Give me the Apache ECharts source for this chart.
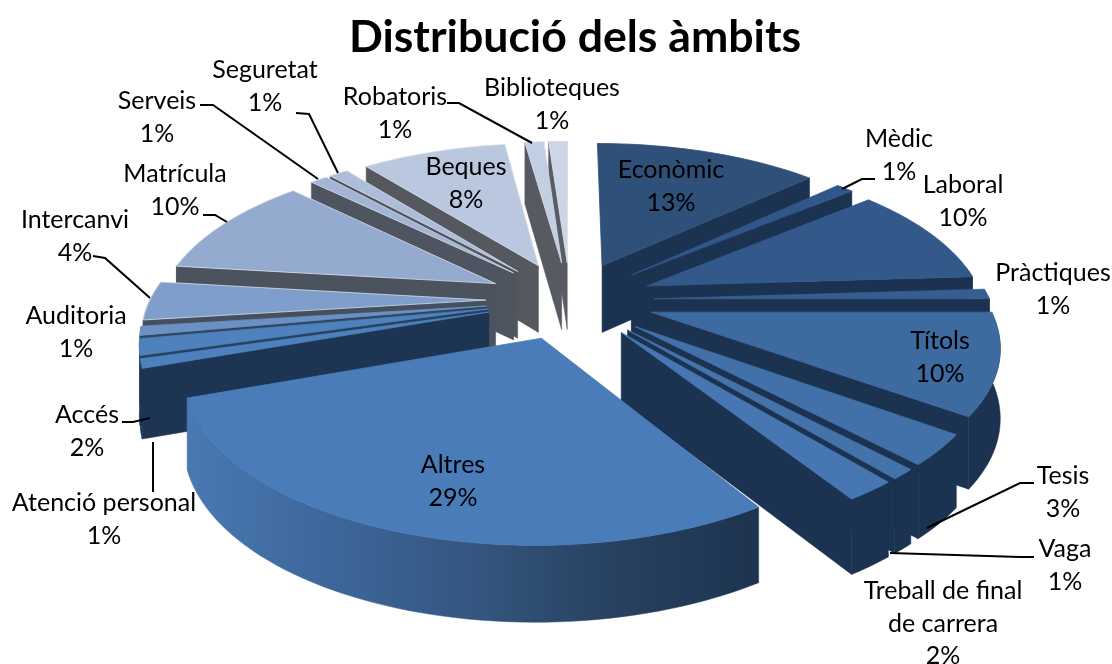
<!DOCTYPE html>
<html><head><meta charset="utf-8"><style>html,body{margin:0;padding:0;background:#fff}#c{width:1112px;height:664px}</style>
<script src="https://cdn.jsdelivr.net/npm/echarts@6/dist/echarts.min.js"></script></head><body><div id="c"></div>
<script>
const categories=['Econòmic','Mèdic','Laboral','Pràctiques','Títols','Tesis','Vaga','Treball de final\nde carrera','Altres','Atenció personal','Accés','Auditoria','Intercanvi','Matrícula','Serveis','Seguretat','Beques','Robatoris','Biblioteques'];
const values=[13,1,10,1,10,3,1,2,28.6,0.9,1.6,0.9,3.9,10.4,1,1.1,8.4,1.1,1.1];
const titleText='Distribució dels àmbits';

const topColors=['#2e5079','#31578a','#33598a','#365e90','#3d6a9f','#4270a8','#4473ac','#4677b2','#4a7cb9','#4d80bd','#4f82bd','#6b90c4','#7f9ecb','#95aacf','#a2b5d5','#adbdd9','#bac8df','#c2cee2','#ccd6e6'];
const sideColors=['#1b3250','#1b3250','#1b3250','#1b3250','#1b3250','#1b3250','#1b3250','#1b3250','#1d3553','#1d3553','#26405f','#2f4763','#45505f','#4b535f','#4f5560','#50555f','#55595f','#575a61','#595c62'];
// label layout: [centre x, first-line y], optional leader polyline
const labelLayout=[[671,170],[899,139],[963,185],[1053,273],[940,341],[1063,476],[1065,549],[943,591],[453,465],[104,503],[87,415],[76,316],[75,220],[175,174],[157,101],[265,70],[466,167],[395,97],[552,88]];
const leaders={1:[[875,179],[862,179],[842,189]],5:[[1034,483],[1020,483],[927,528]],6:[[1034,557],[1020,557],[890,553]],9:[[153,492],[153,442]],10:[[122,422],[133,422],[150,418]],12:[[93,256],[105,258],[150,298]],13:[[203,215],[215,215],[227,222]],14:[[200,105],[213,105],[318,179]],15:[[296,113],[309,114],[338,173]],17:[[447,103],[459,103],[532,143]]};

const CX=570,CY=300,RX=336,RY=155,K=0.177,EXPL=0.25,DEPTH=68;
function proj(u,v,d){const s=1/(1-K*v);return [CX+RX*u*s,CY+RY*v*s+(d?DEPTH*Math.sqrt(s):0)];}
const total=values.reduce((a,b)=>a+b,0);
let acc=0;
const slices=values.map(v=>{const a0=acc/total*2*Math.PI;acc+=v;const a1=acc/total*2*Math.PI;return{a0,a1,mid:(a0+a1)/2};});
const order=slices.map((s,i)=>i).sort((a,b)=>(-Math.cos(slices[a].mid))-(-Math.cos(slices[b].mid)));
const rank=[];order.forEach((i,r)=>rank[i]=r);

function renderItem(params,api){
  const i=api.value(0),s=slices[i],ou=EXPL*Math.sin(s.mid),ov=-EXPL*Math.cos(s.mid);
  const steps=Math.max(4,Math.ceil((s.a1-s.a0)/0.03));
  const rimT=[],rimB=[];
  for(let k=0;k<=steps;k++){const t=s.a0+(s.a1-s.a0)*k/steps,u=ou+Math.sin(t),v=ov-Math.cos(t);rimT.push(proj(u,v,false));rimB.push(proj(u,v,true));}
  const apT=proj(ou,ov,false),apB=proj(ou,ov,true);
  const z=rank[i]*10,side=sideColors[i],kids=[];
  const poly=(pts,fill,zz,stroke)=>kids.push({type:'polygon',shape:{points:pts},z2:z+zz,style:{fill,stroke:stroke||fill,lineWidth:stroke?0.8:0.5}});
  // cut faces that look towards the viewer
  if(Math.sin(s.a0)<0) poly([apT,rimT[0],rimB[0],apB],side,0);
  if(Math.sin(s.a1)>0) poly([apT,rimT[steps],rimB[steps],apB],side,1);
  // outer wall, only the part that faces the viewer
  const vis=[];for(let k=0;k<=steps;k++){const t=s.a0+(s.a1-s.a0)*k/steps;if(Math.cos(t)<0.15)vis.push(k);}
  if(vis.length>1){
    const a=vis.map(k=>rimT[k]),b=vis.map(k=>rimB[k]).reverse();
    let fill=side;
    if(i===8) fill={type:'linear',x:0,y:0,x2:1,y2:0,colorStops:[{offset:0,color:'#4a78b2'},{offset:0.2,color:'#3f6aa0'},{offset:0.5,color:'#345680'},{offset:0.75,color:'#27415f'},{offset:1,color:'#1d3350'}]};
    poly(a.concat(b),fill,2);
  }
  // top face
  const top=[apT].concat(rimT);
  const light=i>=12?'#d5dde9':topColors[i];
  poly(top,topColors[i],3,light);
  return {type:'group',children:kids};
}

const textFont='Lato';
const labelGraphics=[];
categories.forEach((c,i)=>{
  const pct=Math.round(values[i]/total*100)+'%';
  const [x,y]=labelLayout[i];
  labelGraphics.push({type:'text',z:50,style:{text:c+'\n'+pct,x,y:y-16,fill:'#000',font:'25px '+textFont,textAlign:'center',lineHeight:32.5}});
  if(leaders[i]) labelGraphics.push({type:'polyline',z:50,shape:{points:leaders[i]},style:{stroke:'#000',lineWidth:2,fill:null}});
});

const chart=echarts.init(document.getElementById('c'),null,{renderer:'canvas',width:1112,height:664});
chart.setOption({
  animation:false,
  backgroundColor:'#fff',
  title:{text:titleText,left:570,top:10,textAlign:'center',textStyle:{fontFamily:textFont,fontWeight:'bold',fontSize:44.6,color:'#000'}},
  series:[{type:'custom',coordinateSystem:'none',renderItem,silent:true,clip:false,
    data:categories.map((c,i)=>({name:c,value:[i,values[i]]}))}],
  graphic:labelGraphics
});
</script></body></html>
